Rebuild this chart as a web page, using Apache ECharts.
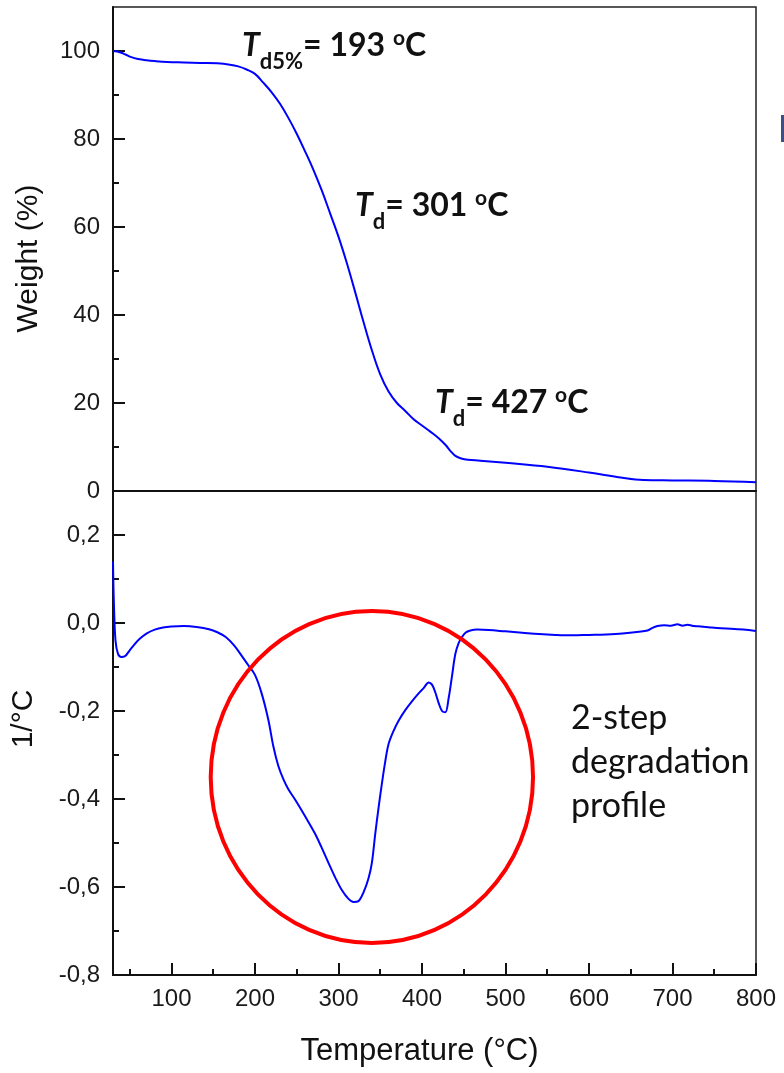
<!DOCTYPE html>
<html><head><meta charset="utf-8">
<script src="https://cdn.jsdelivr.net/npm/echarts@6/dist/echarts.min.js"></script>
<style>html,body{margin:0;padding:0;background:#fff}#c{width:784px;height:1073px}</style>
</head><body><div id="c"></div>
<script>
// ---- data ----
const tgaTemp   = [30,35,40,45,52,60,70,80,95,115,135,155,170,180,190,200,210,220,230,240,250,260,270,280,290,300,310,320,330,340,350,360,370,380,390,400,410,420,428,435,440,447,455,470,500,550,600,640,665,700,750,800];
const tgaWeight = [100.0,99.9,99.6,99.2,98.6,98.2,97.9,97.7,97.5,97.4,97.3,97.2,96.9,96.5,95.8,94.8,92.8,90.6,88.0,84.8,81.2,77.2,73.0,68.3,63.1,57.8,51.8,45.2,38.4,32.0,26.5,22.6,20.0,18.2,16.3,14.9,13.5,12.0,10.5,8.9,8.0,7.4,7.1,6.9,6.4,5.5,4.2,3.0,2.5,2.4,2.3,2.0];

const dtgTemp  = [30,31,33,36,40,44,50,56,62,70,80,90,100,115,130,145,155,165,175,185,192,200,208,216,222,228,234,240,248,256,264,272,280,288,296,304,312,318,324,330,336,340,344,348,352,356,360,366,372,380,388,396,402,408,412,416,420,424,428,432,436,440,444,448,452,458,466,480,500,520,540,560,580,600,620,640,660,670,676,682,690,698,706,712,718,726,734,745,758,770,785,800];
const dtgValue = [0.14,0.05,-0.04,-0.07,-0.077,-0.076,-0.062,-0.048,-0.036,-0.024,-0.015,-0.010,-0.008,-0.007,-0.009,-0.014,-0.021,-0.032,-0.051,-0.077,-0.096,-0.118,-0.160,-0.220,-0.280,-0.325,-0.355,-0.378,-0.401,-0.426,-0.452,-0.479,-0.511,-0.545,-0.578,-0.607,-0.627,-0.634,-0.632,-0.612,-0.580,-0.545,-0.480,-0.420,-0.365,-0.315,-0.275,-0.245,-0.222,-0.198,-0.178,-0.160,-0.148,-0.135,-0.140,-0.158,-0.182,-0.200,-0.203,-0.170,-0.120,-0.070,-0.045,-0.032,-0.022,-0.017,-0.015,-0.016,-0.019,-0.022,-0.025,-0.027,-0.028,-0.027,-0.026,-0.024,-0.020,-0.017,-0.011,-0.007,-0.005,-0.006,-0.003,-0.006,-0.004,-0.007,-0.008,-0.010,-0.012,-0.013,-0.015,-0.018];

const xMajorTicks = [100,200,300,400,500,600,700,800];
const xMinorTicks = [50,150,250,350,450,550,650,750];
const wMajorTicks = [0,20,40,60,80,100];
const wMinorTicks = [10,30,50,70,90];
const dMajorTicks = [-0.8,-0.6,-0.4,-0.2,0,0.2];
const dMinorTicks = [-0.7,-0.5,-0.3,-0.1,0.1];

// ---- chart ----
const FONT = 'Liberation Sans, Arial, sans-serif';
const ANN = 'Lato, Open Sans, sans-serif';
const chart = echarts.init(document.getElementById('c'), null, {renderer:'canvas'});
const axisLine = {show:true, onZero:false, lineStyle:{color:'#111', width:2}};
const noLine = {show:false, onZero:false};
const label = (fmt)=>({show:true, fontFamily:FONT, fontSize:24, color:'#1a1a1a', formatter:fmt});
const comma = v => (Math.abs(v)<1e-9 ? '0,0' : Number(v).toFixed(1).replace('.', ','));
const major = (vals)=>({show:true, inside:true, length:12, customValues:vals, lineStyle:{color:'#111', width:2}});
const minor = (vals)=>({show:true, inside:true, length:6, customValues:vals, lineStyle:{color:'#111', width:2}});

const option = {
  animation:false,
  backgroundColor:'#fff',
  grid:[
    {left:113, right:28, top:7, height:484, show:true, borderColor:'#222', borderWidth:1.5},
    {left:113, right:28, top:491, height:484, show:true, borderColor:'#222', borderWidth:1.5}
  ],
  xAxis:[
    {type:'value', gridIndex:0, position:'bottom', min:30, max:800, axisLine:axisLine, axisTick:{show:false}, axisLabel:{show:false}, splitLine:{show:false}},
    {type:'value', gridIndex:1, position:'bottom', min:30, max:800, axisLine:axisLine, axisTick:major(xMajorTicks),
     axisLabel:Object.assign(label(v=>String(v)), {customValues:xMajorTicks, margin:12}), splitLine:{show:false},
     name:'Temperature (°C)', nameLocation:'middle', nameGap:61,
     nameTextStyle:{fontFamily:FONT, fontSize:31, color:'#111', padding:[0,30,0,0]}},
    {type:'value', gridIndex:1, position:'bottom', offset:0, min:30, max:800, axisLine:noLine, axisTick:minor(xMinorTicks), axisLabel:{show:false}, splitLine:{show:false}}
  ],
  yAxis:[
    {type:'value', gridIndex:0, position:'left', min:0, max:110, axisLine:axisLine, axisTick:major(wMajorTicks),
     axisLabel:Object.assign(label(v=>String(v)), {customValues:wMajorTicks, margin:13}), splitLine:{show:false},
     name:'Weight (%)', nameLocation:'middle', nameGap:69,
     nameTextStyle:{fontFamily:FONT, fontSize:30, color:'#111', padding:[0,19,0,0]}},
    {type:'value', gridIndex:0, position:'left', offset:0, min:0, max:110, axisLine:noLine, axisTick:minor(wMinorTicks), axisLabel:{show:false}, splitLine:{show:false}},
    {type:'value', gridIndex:1, position:'left', min:-0.8, max:0.3, axisLine:axisLine, axisTick:major(dMajorTicks),
     axisLabel:Object.assign(label(comma), {customValues:dMajorTicks, margin:13}), splitLine:{show:false},
     name:'1/°C', nameLocation:'middle', nameGap:74,
     nameTextStyle:{fontFamily:FONT, fontSize:30, color:'#111', padding:[0,0,0,28]}},
    {type:'value', gridIndex:1, position:'left', offset:0, min:-0.8, max:0.3, axisLine:noLine, axisTick:minor(dMinorTicks), axisLabel:{show:false}, splitLine:{show:false}}
  ],
  series:[
    {type:'line', xAxisIndex:0, yAxisIndex:0, data:tgaTemp.map((t,i)=>[t,tgaWeight[i]]),
     showSymbol:false, smooth:0.4, lineStyle:{color:'#0000ff', width:2}, z:3},
    {type:'line', xAxisIndex:1, yAxisIndex:2, data:dtgTemp.map((t,i)=>[t,dtgValue[i]]),
     showSymbol:false, smooth:0.35, lineStyle:{color:'#0000ff', width:2}, z:3}
  ]
};
chart.setOption(option);

// annotations
const c0 = chart.convertToPixel({xAxisIndex:1, yAxisIndex:2}, [340, -0.35]);
const e1 = chart.convertToPixel({xAxisIndex:1, yAxisIndex:2}, [340+193, -0.35-0.377]);
const rich = {
  T:{fontFamily:ANN, fontSize:32, fontWeight:'bold', fontStyle:'italic', lineHeight:34, padding:[6,0,0,0], verticalAlign:'top', fill:'#111'},
  sub:{fontFamily:ANN, fontSize:22, fontWeight:'bold', lineHeight:21, padding:[27,0,0,0], verticalAlign:'top', fill:'#111'},
  m:{fontFamily:ANN, fontSize:32, fontWeight:'bold', lineHeight:34, padding:[6,0,0,0], verticalAlign:'top', fill:'#111'},
  sup:{fontFamily:ANN, fontSize:21, fontWeight:'bold', lineHeight:21, padding:[4,0,0,0], verticalAlign:'top', fill:'#111'}
};
const ann = (x,y,sub,val)=>({type:'text', x:x, y:y, z:20,
  style:{text:'{T|T}{sub|'+sub+'}{m|= '+val+' }{sup|o}{m|C}', rich:rich, align:'left', verticalAlign:'top'}});
chart.setOption({graphic:[
  {type:'ellipse', z:15, shape:{cx:c0[0], cy:c0[1], rx:Math.abs(e1[0]-c0[0]), ry:Math.abs(e1[1]-c0[1])},
   style:{fill:'none', stroke:'#ff0000', lineWidth:4}},
  ann(242, 24, 'd5%', '193'),
  ann(355, 184, 'd', '301'),
  ann(435, 381, 'd', '427'),
  {type:'text', x:571, y:696, z:20, style:{text:'2-step\ndegradation\nprofile', fontFamily:ANN, fontSize:34, lineHeight:44, fill:'#111', align:'left', verticalAlign:'top'}},
  {type:'rect', z:20, shape:{x:781, y:115, width:3, height:27}, style:{fill:'#3d4f86'}}
]});
</script></body></html>
